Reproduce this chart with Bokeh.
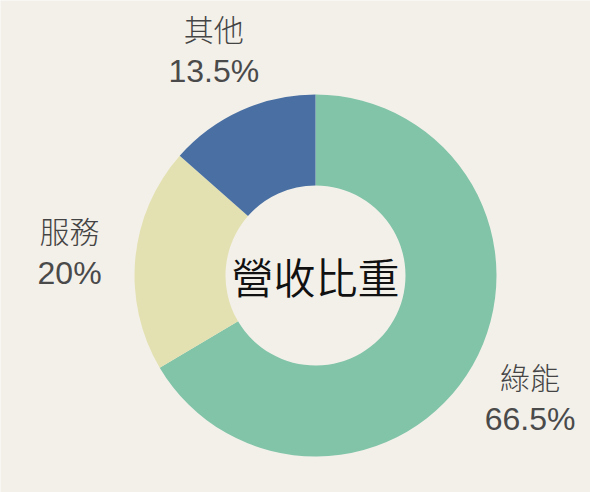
import math
from bokeh.plotting import figure
from bokeh.models import Range1d, ColumnDataSource
from bokeh.core.properties import value
from bokeh.embed import file_html
from bokeh.resources import INLINE

categories = ["綠能", "服務", "其他"]
shares = [66.5, 20.0, 13.5]
pct_labels = ["66.5%", "20%", "13.5%"]
colors = ["#82C4A8", "#E3E1B1", "#4A70A3"]
center_title = "營收比重"

W, H = 590, 492
BG = "#F3F0EA"
cx, cy = 315, 217
r_in, r_out, r_lab = 90, 181, 247

total = sum(shares)
starts, ends, lx, ly = [], [], [], []
cum = 0.0
for s in shares:
    a0 = math.pi / 2 - 2 * math.pi * cum / total
    cum += s
    a1 = math.pi / 2 - 2 * math.pi * cum / total
    starts.append(a0)
    ends.append(a1)
    mid = (a0 + a1) / 2
    lx.append(cx + r_lab * math.cos(mid))
    ly.append(cy + r_lab * math.sin(mid))

src = ColumnDataSource(dict(
    start=starts, end=ends, color=colors, cat=categories, pct=pct_labels,
    lx=lx, ly_top=[y + 22 for y in ly], ly_bot=[y - 21 for y in ly],
))

p = figure(width=W, height=H, output_backend="svg", toolbar_location=None,
           x_range=Range1d(0, W), y_range=Range1d(0, H), min_border=0)
p.axis.visible = False
p.grid.visible = False
p.outline_line_color = None
p.background_fill_color = BG
p.border_fill_color = BG

p.annular_wedge(x=cx, y=cy, inner_radius=r_in, outer_radius=r_out,
                start_angle="start", end_angle="end", direction="clock",
                fill_color="color", line_color=None, source=src)

p.text(x="lx", y="ly_top", text="cat", source=src,
       text_font=value("Noto Sans CJK TC Light"),
       text_font_size="30px", text_color="#444444",
       text_align="center", text_baseline="middle")
p.text(x="lx", y="ly_bot", text="pct", source=src,
       text_font=value("Liberation Sans"),
       text_font_size="32px", text_color="#4a4a4a",
       text_align="center", text_baseline="middle")
p.text(x=[cx], y=[cy], text=[center_title],
       text_font=value("Noto Sans CJK TC DemiLight"),
       text_font_size="42px", text_color="#111111",
       text_align="center", text_baseline="middle")

open("out.html", "w").write(file_html(p, INLINE))
